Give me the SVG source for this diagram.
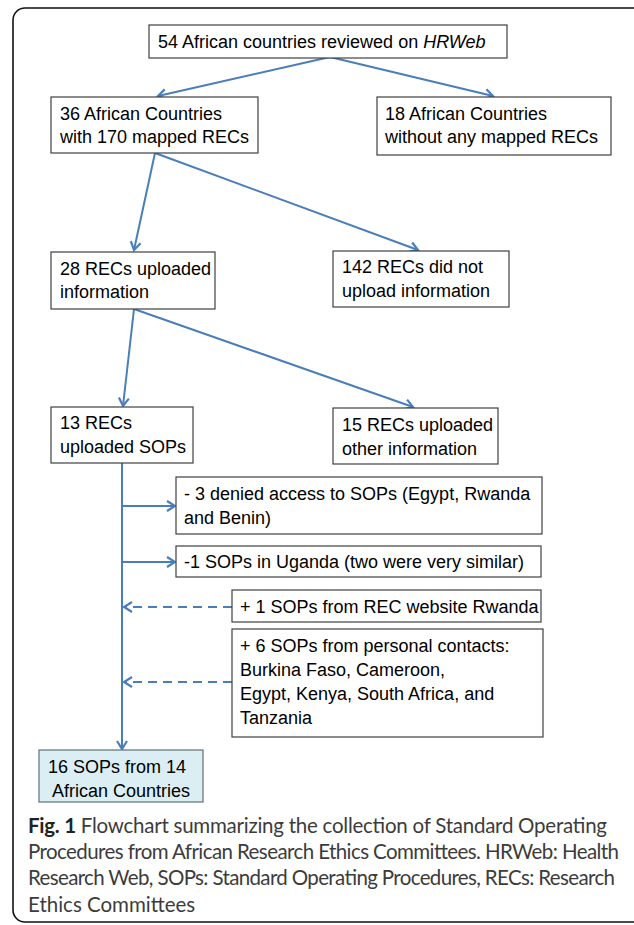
<svg xmlns="http://www.w3.org/2000/svg" width="634" height="925" viewBox="0 0 634 925">
<style>
.box{fill:#fff;stroke:#404040;stroke-width:1.2}
.t{font-family:"Liberation Sans",Arial,sans-serif;font-size:18px;fill:#000}
.c{fill:none;stroke:#4a7ebb;stroke-width:2}
.d{stroke-dasharray:9 6}
.cap{font-family:Lato,"Liberation Sans",sans-serif;font-weight:400;font-size:20.5px;fill:#3c3c3c}
</style>
<defs>
<marker id="ah" viewBox="-10 -7 12 14" refX="0" refY="0" markerWidth="12" markerHeight="14" markerUnits="userSpaceOnUse" orient="auto">
<path d="M-8,-5 L0,0 L-8,5" fill="none" stroke="#4a7ebb" stroke-width="2.2"/>
</marker>
</defs>
<rect x="13" y="8" width="650" height="914" rx="12" fill="#fff" stroke="#111" stroke-width="1.6"/>
<g id="connectors">
<line class="c" x1="330" y1="57" x2="158" y2="96" marker-end="url(#ah)"/>
<line class="c" x1="330" y1="57" x2="493" y2="96" marker-end="url(#ah)"/>
<line class="c" x1="155" y1="153" x2="134" y2="250" marker-end="url(#ah)"/>
<line class="c" x1="155" y1="153" x2="418" y2="250" marker-end="url(#ah)"/>
<line class="c" x1="134" y1="309" x2="123" y2="406" marker-end="url(#ah)"/>
<line class="c" x1="134" y1="309" x2="413" y2="407" marker-end="url(#ah)"/>
<line class="c" x1="122" y1="463" x2="122" y2="749" marker-end="url(#ah)"/>
<line class="c" x1="122" y1="506" x2="175" y2="506" marker-end="url(#ah)"/>
<line class="c" x1="122" y1="562" x2="175" y2="562" marker-end="url(#ah)"/>
<line class="c d" x1="232" y1="607" x2="124" y2="607" marker-end="url(#ah)"/>
<line class="c d" x1="232" y1="682" x2="124" y2="682" marker-end="url(#ah)"/>
</g>
<g id="n1"><rect class="box" x="149" y="25" width="358" height="33"/><text class="t" x="158" y="48">54 African countries reviewed on <tspan font-style="italic">HRWeb</tspan></text></g>
<g id="n2"><rect class="box" x="51" y="97" width="207" height="56"/><text class="t" x="60" y="120">36 African Countries</text><text class="t" x="60" y="143">with 170 mapped RECs</text></g>
<g id="n3"><rect class="box" x="377" y="97" width="234" height="58"/><text class="t" x="385" y="120">18 African Countries</text><text class="t" x="385" y="143">without any mapped RECs</text></g>
<g id="n4"><rect class="box" x="51" y="252" width="164" height="57"/><text class="t" x="60" y="275">28 RECs uploaded</text><text class="t" x="60" y="298">information</text></g>
<g id="n5"><rect class="box" x="333" y="251" width="176" height="56"/><text class="t" x="342" y="273">142 RECs did not</text><text class="t" x="342" y="297">upload information</text></g>
<g id="n6"><rect class="box" x="51" y="407" width="142" height="56"/><text class="t" x="60" y="429">13 RECs</text><text class="t" x="60" y="453">uploaded SOPs</text></g>
<g id="n7"><rect class="box" x="333" y="408" width="165" height="56"/><text class="t" x="342" y="431">15 RECs uploaded</text><text class="t" x="342" y="455">other information</text></g>
<g id="n8"><rect class="box" x="176" y="477" width="366" height="57"/><text class="t" x="184" y="500">- 3 denied access to SOPs (Egypt, Rwanda</text><text class="t" x="184" y="524">and Benin)</text></g>
<g id="n9"><rect class="box" x="176" y="546" width="365" height="31"/><text class="t" x="184" y="568">-1 SOPs in Uganda (two were very similar)</text></g>
<g id="n10"><rect class="box" x="232" y="590" width="309" height="32"/><text class="t" x="240" y="613">+ 1 SOPs from REC website Rwanda</text></g>
<g id="n11"><rect class="box" x="232" y="629" width="311" height="108"/><text class="t" x="240" y="652">+ 6 SOPs from personal contacts:</text><text class="t" x="240" y="676">Burkina Faso, Cameroon,</text><text class="t" x="240" y="700">Egypt, Kenya, South Africa, and</text><text class="t" x="240" y="724">Tanzania</text></g>
<g id="n12"><rect x="39" y="750" width="164" height="52" fill="#dbeef4" stroke="#5f6f78" stroke-width="1.2"/><text class="t" x="48" y="773">16 SOPs from 14</text><text class="t" x="52" y="797">African Countries</text></g>
<g id="caption">
<text class="cap" x="28" y="833" textLength="579" lengthAdjust="spacing"><tspan font-weight="700" fill="#222">Fig. 1</tspan> Flowchart summarizing the collection of Standard Operating</text>
<text class="cap" x="28" y="859" textLength="591" lengthAdjust="spacing">Procedures from African Research Ethics Committees. HRWeb: Health</text>
<text class="cap" x="28" y="885" textLength="587" lengthAdjust="spacing">Research Web, SOPs: Standard Operating Procedures, RECs: Research</text>
<text class="cap" x="28" y="912">Ethics Committees</text>
</g>
</svg>
